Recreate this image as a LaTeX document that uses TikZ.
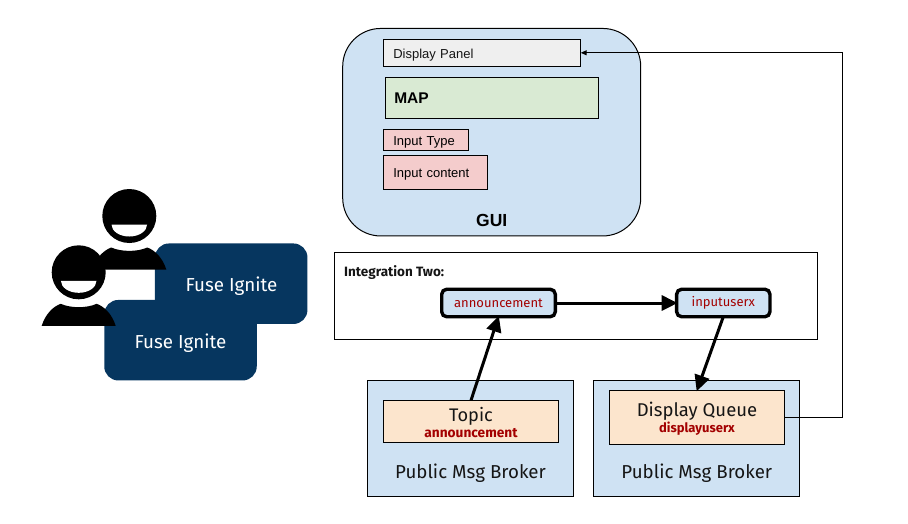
\documentclass[tikz,border=0pt]{standalone}
\usepackage{fontspec}
\setmainfont{Liberation Sans}
\newfontfamily\brokerfont{Fira Sans}
\usepackage{xcolor}
\usepackage{tikz}
\usetikzlibrary{arrows.meta}

\definecolor{guiblue}{HTML}{CFE2F3}
\definecolor{panelgrey}{HTML}{EFEFEF}
\definecolor{mapgreen}{HTML}{D9EAD3}
\definecolor{inputred}{HTML}{F4CCCC}
\definecolor{queueorange}{HTML}{FCE5CD}
\definecolor{fuseblue}{HTML}{06365F}
\definecolor{topicred}{HTML}{A30000}
\definecolor{inktext}{HTML}{151515}

\begin{document}
\begin{tikzpicture}[
            x=1pt, y=-1pt,
            box/.style={draw=black, line width=1pt, outer sep=0pt, inner sep=0pt, inner xsep=10pt},
            leftbox/.style={box, align=left, text height=11pt, text depth=0pt, font=\fontsize{13}{14}\selectfont},
            broker/.style={box, fill=guiblue, minimum width=206pt, minimum height=116pt},
            brokertext/.style={font=\brokerfont\fontsize{18.7}{20}\selectfont, text=inktext, inner sep=0pt},
            queue/.style={box, fill=queueorange, align=center, text=inktext, minimum width=175.5pt},
            step box/.style={draw=black, line width=3.4pt, rounded corners=5pt, fill=guiblue, outer sep=0pt, inner sep=0pt,
                minimum height=27.5pt, text=topicred, font=\brokerfont\fontsize{13}{15}\selectfont},
            fuse/.style={fill=fuseblue, rounded corners=14pt, minimum width=152.5pt, minimum height=80.5pt, outer sep=0pt},
            fusetext/.style={text=white, font=\brokerfont\fontsize{18.8}{20}\selectfont, inner sep=0pt},
            flow/.style={line width=3pt, -{Triangle[length=16pt,width=15pt]}, shorten >=-1pt},
            person/.pic={
                \fill[black] (0,0) circle (27);
                \fill[white] (-17.8,8.5) arc[start angle=180, end angle=0, x radius=17.8, y radius=12] -- cycle;
                \fill[black] (-37,53.5) .. controls (-33,41) and (-25,34) .. (-18,31.5)
                    .. controls (-8,36) and (8,36) .. (18,31.5)
                    .. controls (25,34) and (33,41) .. (37,53.5) -- cycle;
            }
        ]
            \useasboundingbox (0,0) rectangle (908,523);
            % GUI
            \node[box, fill=guiblue, rounded corners=38pt, minimum width=298pt, minimum height=207.5pt] (gui) at (491.7,132.2) {};
            \node[font=\bfseries\fontsize{17.5}{20}\selectfont, inner sep=0pt] (guilabel) at (491.7,220) {GUI};
            \node[leftbox, fill=panelgrey, text width=177.4pt, minimum height=27pt, text=inktext] (display) at (482,52.8) {Display Panel};
            \node[leftbox, fill=mapgreen, text width=195.4pt, minimum height=41pt, font=\bfseries\fontsize{15.5}{16}\selectfont, inner xsep=9pt] (map) at (492,97.8) {MAP};
            \node[leftbox, fill=inputred, text width=65.4pt, minimum height=21pt] (inputtype) at (426,139.8) {Input Type};
            \node[leftbox, fill=inputred, text width=84.4pt, minimum height=34pt] (inputcontent) at (435.5,172.3) {Input content};
            % Integration
            \node[box, minimum width=483.4pt, minimum height=86.6pt] (integration) at (576,296) {};
            \node[anchor=west, inner sep=0pt, text=inktext, font=\brokerfont\bfseries\fontsize{13.5}{14}\selectfont] (integrationlabel) at (344,272.5) {Integration Two:};
            \node[step box, minimum width=113.6pt] (announcement) at (498.5,303) {announcement};
            \node[step box, minimum width=93.3pt] (inputuserx) at (723.3,303) {inputuserx};
            % Brokers
            \node[broker] (brokerone) at (470.3,438.5) {};
            \node[broker] (brokertwo) at (696.3,438.5) {};
            \node[brokertext] (brokeronelabel) at (470.5,473) {Public Msg Broker};
            \node[brokertext] (brokertwolabel) at (696.8,473) {Public Msg Broker};
            \node[queue, minimum height=42pt] (topic) at (471,421.3) {{\brokerfont\fontsize{18.2}{19}\selectfont\rule{0pt}{17pt}Topic}\\[2pt]{\brokerfont\bfseries\fontsize{13.7}{14}\selectfont\color{topicred}announcement}};
            \node[queue, minimum height=54pt] (queue) at (697,417.3) {{\brokerfont\fontsize{18.5}{19}\selectfont\rule{0pt}{17pt}Display Queue}\\[1pt]{\brokerfont\bfseries\fontsize{13}{14}\selectfont\color{topicred}displayuserx}};
            % Edges
            \draw[flow] (announcement) -- (inputuserx);
            \draw[flow] (topic.north) -- (announcement.south);
            \draw[flow] (inputuserx.south) -- (queue.north);
            \coordinate (turnlow) at (842.5,417.3);
            \coordinate (turnhigh) at (842.5,52.8);
            \draw[line width=1pt, -{Triangle[length=6pt,width=5pt]}] (queue.east) -- (turnlow) -- (turnhigh) -- (display.east);
            % Users
            \node[fuse] (fuseback) at (231.2,283.7) {};
            \node[fusetext] (fusebacklabel) at (231.5,286.5) {Fuse Ignite};
            \pic at (129.3,216) {person};
            \node[fuse] (fusefront) at (180.5,340.2) {};
            \node[fusetext] (fusefrontlabel) at (180.5,343.5) {Fuse Ignite};
            \pic at (78.7,272.3) {person};
        \end{tikzpicture}
\end{document}
